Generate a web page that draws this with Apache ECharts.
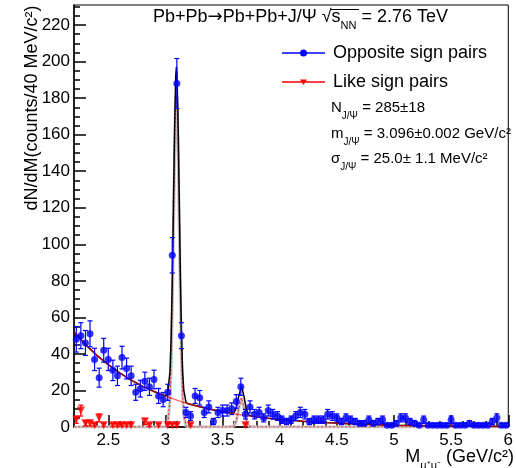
<!DOCTYPE html>
<html>
<head>
<meta charset="utf-8">
<script src="https://cdn.jsdelivr.net/npm/echarts@6.0.0/dist/echarts.min.js"></script>
<style>html,body{margin:0;padding:0;background:#fff;}#c{width:516px;height:468px;}</style>
</head>
<body>
<div id="c"></div>
<script>
// ---- data: [mass (GeV/c^2), counts per 40 MeV, error] ----
const oppositeLow = [
  [2.22,48,7],[2.26,50,7.1],[2.30,46,6.8],[2.34,51,7.1],[2.38,37,6.1],[2.42,27,5.2],
  [2.46,42,6.5],[2.50,37,6.1],[2.54,31,5.6],[2.58,28,5.3],[2.62,38,6.2],[2.66,32,5.7],
  [2.70,28,5.3],[2.74,19,4.4],[2.78,21,4.6],[2.82,25,5],[2.86,22,4.7],[2.90,26,5.1],
  [2.94,17,4.1],[2.98,15,3.9],[3.02,19,4.4]
];
const oppositePeak = [
  [3.06,94,9.7],[3.10,188,13.7],[3.14,50,7.1],[3.18,8,2.8],[3.22,6,2.4],[3.26,17,4.1],
  [3.30,16,4],[3.34,8,2.8],[3.38,11,3.3],[3.42,3,1.7],[3.46,8,2.8],[3.50,9,3],
  [3.54,9,3],[3.58,10,3.2],[3.62,14,3.7],[3.66,22,4.7],[3.70,7,2.6],[3.74,11,3.3],
  [3.78,7,2.6],[3.82,8,2.8],[3.86,5,2.2],[3.90,9,3],[3.94,7,2.6],[3.98,6,2.4]
];
const oppositeHigh = [
  [4.02,4,2],[4.06,3,1.7],[4.10,4,2],[4.14,6,2.4],[4.18,8,2.8],[4.22,7,2.6],[4.26,3,1.7],
  [4.30,4,2],[4.34,4,2],[4.38,4,2],[4.42,7,2.6],[4.46,6,2.4],[4.50,5,2.2],[4.54,3,1.7],
  [4.58,5,2.2],[4.62,4,2],[4.66,3,1.7],[4.70,2,1.4],[4.74,2,1.4],[4.78,4,2],[4.82,2,1.4],
  [4.86,3,1.7],[4.90,4,2],[4.94,1,1],[4.98,1,1],[5.02,2,1.4],[5.06,5,2.2],[5.10,5,2.2],
  [5.14,3,1.7],[5.18,2,1.4],[5.22,1,1],[5.26,4,2],[5.30,1,1],[5.34,1,1],[5.38,1,1],
  [5.42,1,1],[5.46,1,1],[5.50,4,2],[5.54,1,1],[5.58,1,1],[5.62,1,1],[5.66,2,1.4],
  [5.70,1,1],[5.74,1,1],[5.78,1,1],[5.82,1,1],[5.86,3,1.7],[5.90,5,2.2],[5.94,1,1],[5.98,1,1]
];
const likeSign = [
  [2.22,4,2],[2.26,9,3],[2.30,2,1.4],[2.34,2,1.4],[2.38,1,1],[2.42,5,2.2],[2.46,1,1],
  [2.54,1,1],[2.58,1,1],[2.62,1,1],[2.66,1,1],[2.70,1,1],[2.82,3,1.7],[2.86,1,1],
  [2.94,1,1],[3.02,1,1],[3.06,1,1],[3.10,1,1],[3.22,1,1],[3.70,1,1]
];
// fitted curves: [mass, value]
const backgroundFit = [
  [2.2,52],[2.3,45.2],[2.4,39.2],[2.5,34.1],[2.6,29.6],[2.7,25.7],[2.8,22.4],[2.9,19.4],
  [3.0,16.9],[3.1,14.7],[3.2,12.7],[3.3,11.1],[3.4,9.6],[3.5,8.4],[3.6,7.3],[3.7,6.3],
  [3.8,5.5],[3.9,4.8],[4.0,4.2],[4.2,3.1],[4.4,2.4],[4.6,1.8],[4.8,1.4],[5.0,1.0],
  [5.2,0.8],[5.4,0.6],[5.6,0.45],[5.8,0.35],[6.0,0.25]
];
const totalFit = [
  [2.2,52],[2.3,45.2],[2.4,39.2],[2.5,34.1],[2.6,29.6],[2.7,25.7],[2.8,22.4],[2.9,19.4],
  [3.0,17.0],[3.02,18.2],[3.04,30.5],[3.05,49],[3.06,80],[3.07,121],[3.08,163],[3.09,192],
  [3.096,197],[3.10,194],[3.11,170],[3.12,129],[3.13,86],[3.14,53],[3.15,31],[3.16,20.5],
  [3.18,13.5],[3.2,12.7],[3.3,11.1],[3.4,9.6],[3.5,8.4],[3.58,7.6],[3.60,7.8],[3.62,10.3],
  [3.64,16.5],[3.665,22.5],[3.69,16],[3.71,9.3],[3.73,6.6],[3.75,6.0],[3.8,5.5],[3.9,4.8],
  [4.0,4.2],[4.2,3.1],[4.4,2.4],[4.6,1.8],[4.8,1.4],[5.0,1.0],[5.2,0.8],[5.4,0.6],
  [5.6,0.45],[5.8,0.35],[6.0,0.25]
];
const peakComponents = [
  [2.2,0],[3.0,0],[3.02,1.8],[3.04,14.8],[3.05,33.5],[3.06,64.5],[3.07,106],[3.08,148],
  [3.09,177],[3.096,182],[3.10,180],[3.11,156],[3.12,115],[3.13,72],[3.14,39],[3.15,18],
  [3.16,7],[3.18,0.6],[3.2,0],[3.56,0],[3.60,0.5],[3.62,3.2],[3.64,9.7],[3.665,16],
  [3.69,9.7],[3.71,3.2],[3.73,0.5],[3.77,0],[6.0,0]
];
const xTicks = [2.5,3,3.5,4,4.5,5,5.5,6];
const xMinorTicks = [2.3,2.4,2.6,2.7,2.8,2.9,3.1,3.2,3.3,3.4,3.6,3.7,3.8,3.9,4.1,4.2,4.3,4.4,4.6,4.7,4.8,4.9,5.1,5.2,5.3,5.4,5.6,5.7,5.8,5.9];
const yTicks = [0,20,40,60,80,100,120,140,160,180,200,220];
const yMinorTicks = [5,10,15,25,30,35,45,50,55,65,70,75,85,90,95,105,110,115,125,130,135,145,150,155,165,170,175,185,190,195,205,210,215,225,230];

const FONT = 'Liberation Sans, Arial, Helvetica, sans-serif';
const oppositeAll = oppositeLow.concat(oppositePeak, oppositeHigh);

function errorBars(color) {
  return function (params, api) {
    const x = api.value(0), y = api.value(1), e = api.value(2);
    const c = api.coord([x, y]);
    const lo = api.coord([x, Math.max(0, y - e)]);
    const hi = api.coord([x, y + e]);
    const st = {stroke: color, lineWidth: 1.2};
    return {type: 'group', children: [
      {type: 'line', shape: {x1: c[0], y1: lo[1], x2: c[0], y2: hi[1]}, style: st},
      {type: 'line', shape: {x1: c[0] - 2.5, y1: hi[1], x2: c[0] + 2.5, y2: hi[1]}, style: st},
      {type: 'line', shape: {x1: c[0] - 2.5, y1: lo[1], x2: c[0] + 2.5, y2: lo[1]}, style: st}
    ]};
  };
}

const statRich = {
  a: {fontSize: 15, fontFamily: FONT, fill: '#000', verticalAlign: 'middle', lineHeight: 20},
  s: {fontSize: 10, fontFamily: FONT, fill: '#000', verticalAlign: 'bottom', lineHeight: 20, padding: [0, 0, -3, 0]}
};

const chart = echarts.init(document.getElementById('c'), null, {renderer: 'canvas'});
const axisBase = {color: '#000', width: 1.5};
chart.setOption({
  animation: false,
  backgroundColor: '#fff',
  grid: {left: 74, right: 3, top: 5, bottom: 41, show: true, borderColor: '#000', borderWidth: 1, backgroundColor: 'transparent'},
  xAxis: [
    {type: 'value', min: 2.2, max: 6, position: 'bottom',
     axisLine: {show: true, lineStyle: axisBase},
     axisTick: {show: true, inside: true, length: 12, customValues: xTicks, lineStyle: axisBase},
     axisLabel: {customValues: xTicks, fontSize: 17, fontFamily: FONT, color: '#000', margin: 5},
     splitLine: {show: false}},
    {type: 'value', min: 2.2, max: 6, position: 'bottom',
     axisLine: {show: false},
     axisTick: {show: true, inside: true, length: 6, customValues: xMinorTicks, lineStyle: axisBase},
     axisLabel: {show: false}, splitLine: {show: false}}
  ],
  yAxis: [
    {type: 'value', min: 0, max: 231, position: 'left',
     axisLine: {show: true, lineStyle: axisBase},
     axisTick: {show: true, inside: true, length: 12, customValues: yTicks, lineStyle: axisBase},
     axisLabel: {customValues: yTicks, fontSize: 17, fontFamily: FONT, color: '#000', margin: 4},
     splitLine: {show: false}},
    {type: 'value', min: 0, max: 231, position: 'left',
     axisLine: {show: false},
     axisTick: {show: true, inside: true, length: 6, customValues: yMinorTicks, lineStyle: axisBase},
     axisLabel: {show: false}, splitLine: {show: false}}
  ],
  series: [
    {type: 'line', data: peakComponents, showSymbol: false, lineStyle: {color: '#c4c4c4', width: 3}, z: 1, silent: true},
    {type: 'line', data: peakComponents, showSymbol: false, lineStyle: {color: '#ff2020', width: 1, type: [2, 2]}, z: 2, silent: true},
    {type: 'line', data: totalFit, showSymbol: false, lineStyle: {color: '#000', width: 1.5}, z: 3, silent: true},
    {type: 'line', data: backgroundFit, showSymbol: false, smooth: 0.3, lineStyle: {color: '#ff0000', width: 1.5, opacity: 0.6}, z: 4, silent: true},
    {type: 'custom', data: likeSign, renderItem: errorBars('#ff0000'), encode: {x: 0, y: 1}, clip: true, z: 5},
    {type: 'scatter', data: likeSign.map(d => [d[0], d[1]]), symbol: 'triangle', symbolRotate: 180, symbolSize: 8, itemStyle: {color: '#ff0000'}, z: 6},
    {type: 'custom', data: oppositeAll, renderItem: errorBars('#0000ff'), encode: {x: 0, y: 1}, clip: true, z: 7},
    {type: 'scatter', data: oppositeAll.map(d => [d[0], d[1]]), symbol: 'circle', symbolSize: 7, itemStyle: {color: '#0000ff'}, z: 8}
  ],
  graphic: [
    {type: 'text', x: 153, y: 17, z: 100, style: {
      text: '{a|Pb+Pb}{r|→}{a|Pb+Pb+J/Ψ √s}{s|NN}{a| = 2.76 TeV}',
      verticalAlign: 'middle', fill: '#000',
      rich: {a: {fontSize: 18, fontFamily: FONT, fill: '#000', verticalAlign: 'middle', lineHeight: 22},
             r: {fontSize: 18, fontFamily: 'DejaVu Sans', fill: '#000', verticalAlign: 'middle', lineHeight: 22},
             s: {fontSize: 11, fontFamily: FONT, fill: '#000', verticalAlign: 'bottom', lineHeight: 22, padding: [0, 0, -3, 0]}}}},
    {type: 'line', z: 100, shape: {x1: 331, y1: 9.5, x2: 359, y2: 9.5}, style: {stroke: '#000', lineWidth: 1}},
    // legend
    {type: 'line', z: 100, shape: {x1: 282, y1: 53, x2: 325, y2: 53}, style: {stroke: '#0000ff', lineWidth: 1.5}},
    {type: 'circle', z: 100, shape: {cx: 303.5, cy: 53, r: 3.5}, style: {fill: '#0000ff'}},
    {type: 'text', x: 333, y: 53, z: 100, style: {text: 'Opposite sign pairs', font: '18px ' + FONT, fill: '#000', verticalAlign: 'middle'}},
    {type: 'line', z: 100, shape: {x1: 282, y1: 82, x2: 325, y2: 82}, style: {stroke: '#ff0000', lineWidth: 1.5}},
    {type: 'polygon', z: 100, shape: {points: [[300, 79.5], [307, 79.5], [303.5, 85]]}, style: {fill: '#ff0000'}},
    {type: 'text', x: 333, y: 82, z: 100, style: {text: 'Like sign pairs', font: '18px ' + FONT, fill: '#000', verticalAlign: 'middle'}},
    // fit results
    {type: 'text', x: 331, y: 108, z: 100, style: {text: '{a|N}{s|J/Ψ}{a| = 285±18}', verticalAlign: 'middle', rich: statRich}},
    {type: 'text', x: 331, y: 134, z: 100, style: {text: '{a|m}{s|J/Ψ}{a| = 3.096±0.002 GeV/c²}', verticalAlign: 'middle', rich: statRich}},
    {type: 'text', x: 331, y: 159, z: 100, style: {text: '{a|σ}{s|J/Ψ}{a| = 25.0± 1.1 MeV/c²}', verticalAlign: 'middle', rich: statRich}},
    // axis titles
    {type: 'text', x: 32, y: 108, rotation: Math.PI / 2, z: 100, style: {
      text: 'dN/dM(counts/40 MeV/c²)', font: '18px ' + FONT, fill: '#000', align: 'center', verticalAlign: 'middle'}},
    {type: 'text', x: 514, y: 457, z: 100, style: {
      text: '{a|M}{s|μ⁺μ⁻}{a| (GeV/c²)}', align: 'right', verticalAlign: 'middle',
      rich: {a: {fontSize: 18, fontFamily: FONT, fill: '#000', verticalAlign: 'middle', lineHeight: 22},
             s: {fontSize: 11, fontFamily: FONT, fill: '#000', verticalAlign: 'bottom', lineHeight: 22, padding: [0, 0, -3, 0]}}}}
  ]
});
</script>
</body>
</html>
